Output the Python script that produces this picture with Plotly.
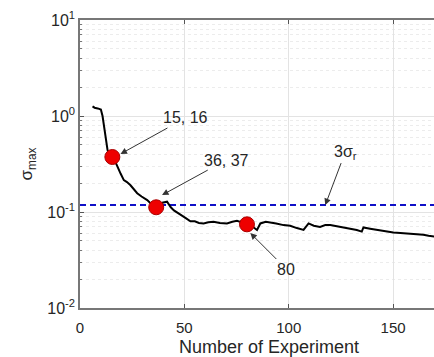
import math
import plotly.graph_objects as go

# ---- data ----
exp_n = [6, 7, 8.5, 10, 10.8, 11.6, 12.4, 13.2, 14.5, 15.9, 17, 17.8, 19.5, 21, 22.5, 24.2,
         25.5, 27.4, 29.5, 32.2, 34, 36.1, 38, 39.5, 41.7, 43.5, 45, 48, 50.5, 52.9, 55,
         57, 59.2, 61.5, 64, 67, 70.4, 73, 75.2, 77.5, 80, 82.5, 84.8, 86.4, 89, 91.1,
         94, 97.5, 100.7, 103.9, 107.1, 109.5, 112, 115, 117.5, 119.9, 123, 126.2, 129.5,
         132.6, 135, 135.8, 139, 142.2, 146, 150.1, 153.5, 156.6, 160.5, 164.5, 167, 170]
sigma_max = [1.26, 1.22, 1.20, 1.17, 1.0, 0.75, 0.55, 0.44, 0.40, 0.374, 0.33, 0.30, 0.25,
             0.215, 0.205, 0.19, 0.175, 0.157, 0.145, 0.133, 0.122, 0.113, 0.115, 0.125,
             0.128, 0.112, 0.104, 0.095, 0.087, 0.080, 0.080, 0.077, 0.076, 0.078, 0.079,
             0.077, 0.076, 0.079, 0.081, 0.078, 0.0744, 0.071, 0.065, 0.076, 0.079, 0.078,
             0.076, 0.073, 0.072, 0.068, 0.065, 0.076, 0.072, 0.070, 0.073, 0.073, 0.071,
             0.070, 0.067, 0.065, 0.0625, 0.069, 0.067, 0.065, 0.063, 0.061, 0.0605, 0.060,
             0.059, 0.058, 0.0565, 0.0555]

marker_x = [15.5, 36.5, 80]
marker_y = [0.374, 0.112, 0.0744]

threshold_x = [0, 170]
threshold_val = 0.118  # 3 sigma_r

labels = ["15, 16", "36, 37", "3σ<sub>r</sub>", "80"]
label_head_x = [19.4, 39.3, 117.5, 81.6]
label_head_y = [0.402, 0.150, 0.118, 0.0604]
label_ax = [65, 64, 20, 36]
label_ay = [-36, -35, -53, 36]

y_tickvals = [0.01, 0.1, 1, 10]
y_ticktext = ["10<sup>-2</sup>", "10<sup>-1</sup>", "10<sup>0</sup>", "10<sup>1</sup>"]
x_tickvals = [0, 50, 100, 150]

FONT = "Liberation Sans, Arial, sans-serif"

fig = go.Figure()
fig.add_trace(go.Scatter(x=threshold_x, y=[threshold_val] * len(threshold_x), mode="lines",
                         line=dict(color="#1010c8", width=2, dash="6px,4px"),
                         hoverinfo="skip", showlegend=False))
fig.add_trace(go.Scatter(x=exp_n, y=sigma_max, mode="lines",
                         line=dict(color="black", width=2), showlegend=False))
fig.add_trace(go.Scatter(x=marker_x, y=marker_y, mode="markers",
                         marker=dict(color="#ee0000", size=15, line=dict(color="#aa0000", width=1)),
                         showlegend=False))

for t, hx, hy, ax, ay in zip(labels, label_head_x, label_head_y, label_ax, label_ay):
    fig.add_annotation(x=hx, y=math.log10(hy), text=t, showarrow=True, ax=ax, ay=ay,
                       arrowhead=2, arrowsize=1.3, arrowwidth=1, arrowcolor="#333",
                       font=dict(family=FONT, size=16, color="#262626"))

fig.add_annotation(x=0.533, y=-0.1354, xref="paper", yref="paper", text="Number of Experiment",
                   showarrow=False, xanchor="center", yanchor="middle",
                   font=dict(family=FONT, size=18, color="#262626"))

fig.update_layout(
    width=434, height=357,
    margin=dict(l=79.5, r=0, t=20, b=49),
    paper_bgcolor="white", plot_bgcolor="white",
    font=dict(family=FONT, size=16, color="#262626"),
    xaxis=dict(range=[0, 169.6], tickvals=x_tickvals, ticks="inside", ticklen=4,
               tickcolor="#555", showline=True, linecolor="#777", linewidth=1.5, mirror="ticks",
               showgrid=True, gridcolor="#e3e3e3", gridwidth=1, zeroline=False,
               tickfont=dict(size=15), ticklabelstandoff=5),
    yaxis=dict(type="log", range=[-2, 1], tickvals=y_tickvals, ticktext=y_ticktext,
               ticks="inside", ticklen=4, tickcolor="#555", showline=True, linecolor="#777",
               linewidth=1.5, showgrid=True, gridcolor="#e3e3e3", zeroline=False,
               tickfont=dict(size=16),
               title=dict(text="σ<sub>max</sub>", font=dict(size=17), standoff=10),
               minor=dict(dtick="D1", showgrid=True, gridcolor="#ececec", griddash="dot",
                          ticks="inside", ticklen=2, tickcolor="#777")),
)

fig.write_html("out.html")
